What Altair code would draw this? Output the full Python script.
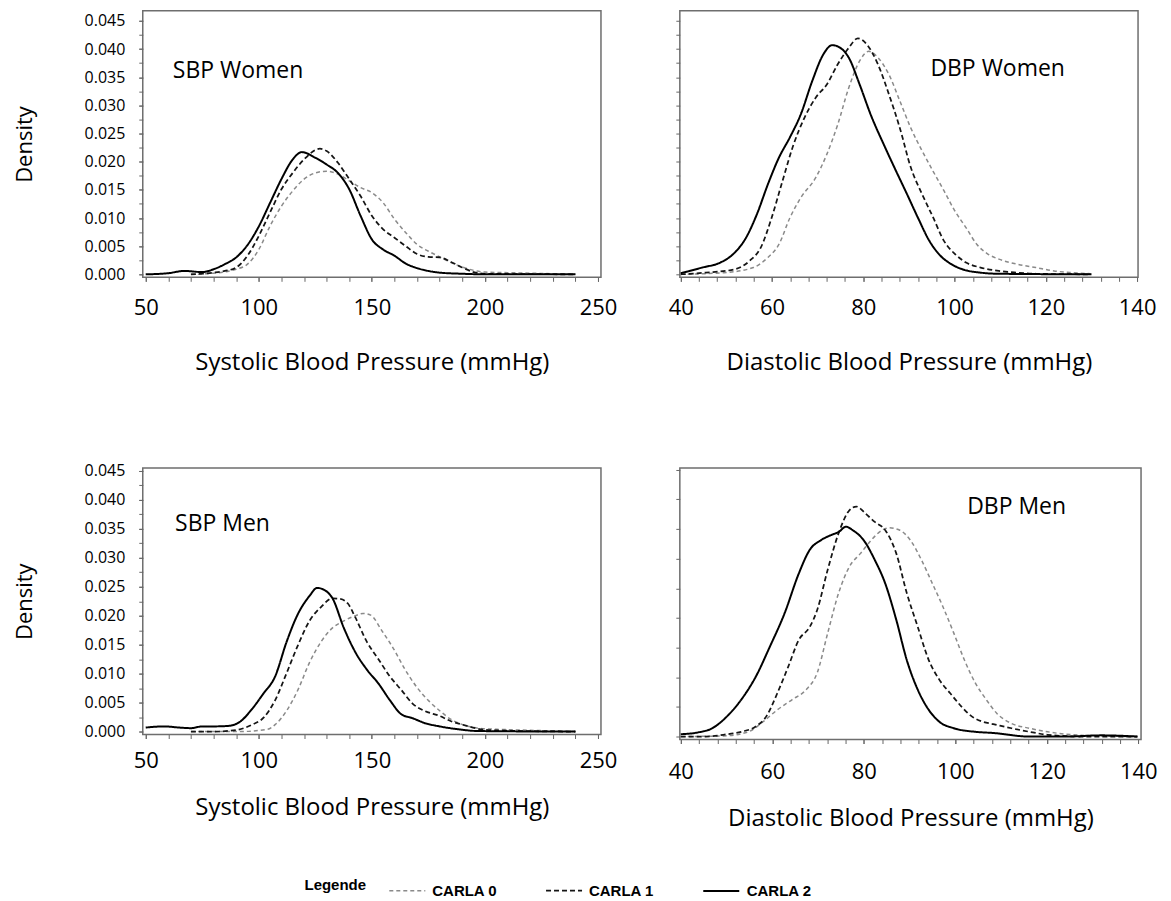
import altair as alt
import pandas as pd

SERIES = ["CARLA 0", "CARLA 1", "CARLA 2"]

# ---------- SBP Women ----------
sbpw_x0 = [70, 80, 90, 95, 100, 105, 110, 115, 120, 125, 130, 135, 140, 145, 150, 155, 160, 165, 170, 175, 180, 185, 190, 195, 200, 210, 220, 240]
sbpw_y0 = [0.0, 0.0002, 0.0009, 0.0018, 0.0044, 0.0086, 0.0121, 0.0148, 0.0169, 0.018, 0.0183, 0.0178, 0.0166, 0.0154, 0.0145, 0.0127, 0.0098, 0.0074, 0.0053, 0.0041, 0.0031, 0.0021, 0.0013, 0.0007, 0.0004, 0.0003, 0.0002, 0.0]
sbpw_x1 = [70, 80, 85, 90, 95, 100, 105, 110, 115, 120, 127, 130, 135, 140, 145, 150, 155, 160, 165, 170, 175, 180, 185, 190, 195, 200, 240]
sbpw_y1 = [0.0, 0.0003, 0.0006, 0.0012, 0.0033, 0.0068, 0.011, 0.0151, 0.018, 0.0204, 0.0223, 0.0219, 0.0198, 0.0169, 0.0139, 0.0104, 0.008, 0.0065, 0.005, 0.0036, 0.0031, 0.003, 0.0022, 0.0012, 0.0004, 0.0001, 0.0]
sbpw_x2 = [50, 60, 67, 75, 80, 85, 90, 95, 100, 105, 110, 115, 119, 125, 130, 135, 140, 145, 150, 155, 160, 165, 170, 175, 180, 190, 200, 240]
sbpw_y2 = [0.0, 0.0002, 0.0006, 0.0004, 0.0009, 0.0018, 0.003, 0.0052, 0.0085, 0.0127, 0.0169, 0.0204, 0.0217, 0.0207, 0.0195, 0.018, 0.0151, 0.0104, 0.0062, 0.0044, 0.0033, 0.0019, 0.0011, 0.0006, 0.0003, 0.0001, 0.0, 0.0]

# ---------- DBP Women ----------
dbpw_x0 = [40, 49.5, 55.9, 59.1, 61.5, 63.9, 66.3, 69.6, 72.0, 74.4, 76.8, 79.2, 81.2, 83.2, 85.6, 88.0, 90.4, 92.9, 95.3, 97.7, 100.1, 102.5, 104.9, 107.3, 109.7, 113.7, 117.8, 121.8, 125.8, 129.8]
dbpw_y0 = [0.0, 0.0003, 0.0012, 0.003, 0.0053, 0.01, 0.0136, 0.0172, 0.0213, 0.0266, 0.0331, 0.0379, 0.0396, 0.0385, 0.0355, 0.0308, 0.026, 0.0219, 0.0183, 0.0148, 0.0112, 0.0083, 0.0053, 0.0036, 0.0027, 0.0018, 0.0012, 0.0006, 0.0003, 0.0001]
dbpw_x1 = [40, 45.5, 51.9, 55.1, 57.5, 59.9, 62.3, 64.7, 67.1, 69.6, 72.0, 74.4, 76.8, 78.8, 80.8, 83.2, 85.6, 88.0, 90.4, 92.9, 95.3, 97.7, 100.1, 102.5, 105.7, 109.7, 113.7, 117.8, 129.8]
dbpw_y1 = [0.0, 0.0003, 0.0009, 0.0024, 0.0047, 0.01, 0.0166, 0.023, 0.0278, 0.0314, 0.0337, 0.0373, 0.0402, 0.0419, 0.0408, 0.0373, 0.032, 0.026, 0.019, 0.0142, 0.0101, 0.0059, 0.0036, 0.0021, 0.0012, 0.0006, 0.0003, 0.0001, 0.0]
dbpw_x2 = [40, 44.7, 48.7, 51.5, 54.3, 56.7, 59.1, 61.5, 63.9, 66.3, 68.8, 71.2, 73.2, 74.8, 76.8, 79.2, 81.6, 84.8, 87.2, 89.6, 92.0, 94.5, 96.9, 99.3, 101.7, 105.7, 109.7, 130]
dbpw_y2 = [0.0002, 0.0012, 0.0021, 0.0036, 0.0065, 0.0107, 0.016, 0.0207, 0.0243, 0.0284, 0.0343, 0.039, 0.0407, 0.0403, 0.0385, 0.0337, 0.0284, 0.0225, 0.0183, 0.0142, 0.01, 0.0059, 0.0033, 0.0018, 0.0009, 0.0003, 0.0001, 0.0]

# ---------- SBP Men ----------
sbpm_x0 = [70, 90.3, 103.8, 107.2, 112.3, 117.3, 122.4, 127.5, 132.6, 137.6, 142.7, 146.1, 149.5, 154.6, 159.6, 164.7, 169.8, 174.9, 180.0, 185.0, 190.1, 196.9, 205.3, 213.8, 240]
sbpm_y0 = [0.0, 0.0, 0.0004, 0.0012, 0.0036, 0.0072, 0.0119, 0.0155, 0.0179, 0.0191, 0.02, 0.0204, 0.0201, 0.0173, 0.0143, 0.0107, 0.0077, 0.0054, 0.0036, 0.0021, 0.0012, 0.0006, 0.0004, 0.0003, 0.0]
sbpm_x1 = [70, 80.1, 90.3, 97.0, 102.1, 107.2, 112.3, 117.3, 122.4, 127.5, 132.6, 136.0, 139.4, 142.7, 147.8, 152.9, 158.0, 163.0, 168.1, 173.2, 180.0, 185.0, 190.1, 196.9, 205.3, 240]
sbpm_y1 = [0.0, 0.0, 0.0003, 0.0012, 0.0024, 0.0054, 0.0101, 0.0149, 0.0191, 0.0215, 0.023, 0.0229, 0.0221, 0.0197, 0.0155, 0.0125, 0.0095, 0.0072, 0.0048, 0.0036, 0.0027, 0.0018, 0.0012, 0.0005, 0.0002, 0.0]
sbpm_x2 = [50, 58.1, 64.9, 70.0, 75.0, 80.1, 86.9, 92.0, 97.0, 102.1, 107.2, 112.3, 117.3, 122.4, 125.8, 129.2, 132.6, 137.6, 142.7, 147.8, 152.9, 158.0, 163.0, 168.1, 173.2, 180.0, 188.4, 196.9, 240]
sbpm_y2 = [0.0007, 0.0009, 0.0007, 0.0006, 0.0009, 0.0009, 0.001, 0.0018, 0.0039, 0.0066, 0.0095, 0.0155, 0.0203, 0.0234, 0.0248, 0.0244, 0.023, 0.0179, 0.0137, 0.0107, 0.0083, 0.0054, 0.003, 0.0023, 0.0015, 0.0009, 0.0004, 0.0001, 0.0]

# ---------- DBP Men ----------
dbpm_x0 = [40, 49.3, 54.8, 58.0, 61.1, 64.3, 67.4, 69.8, 72.1, 74.5, 76.9, 79.3, 81.6, 84.0, 85.5, 87.9, 90.2, 92.6, 95.0, 97.3, 99.7, 102.0, 104.4, 106.8, 109.1, 112.3, 116.2, 120.2, 124.1, 132.0, 139.8]
dbpm_y0 = [0.0, 0.0001, 0.0008, 0.0025, 0.0045, 0.0062, 0.0079, 0.0107, 0.0174, 0.0242, 0.0287, 0.0309, 0.0331, 0.0348, 0.0352, 0.0348, 0.0331, 0.0298, 0.0258, 0.0219, 0.0174, 0.0129, 0.009, 0.0062, 0.0039, 0.0022, 0.0014, 0.0008, 0.0004, 0.0001, 0.0]
dbpm_x1 = [40, 45.4, 49.3, 53.2, 56.4, 58.7, 61.1, 63.5, 65.8, 68.2, 69.8, 72.1, 74.5, 76.9, 78.4, 80.4, 82.4, 84.7, 87.1, 89.4, 91.8, 94.2, 96.5, 98.9, 101.3, 103.6, 106.0, 108.3, 112.3, 116.2, 120.2, 128.0, 139.8]
dbpm_y1 = [0.0, 0.0, 0.0003, 0.0008, 0.0017, 0.0034, 0.0073, 0.0118, 0.0163, 0.0185, 0.0213, 0.0281, 0.0343, 0.0382, 0.0388, 0.0376, 0.0362, 0.0348, 0.0309, 0.0242, 0.0185, 0.0129, 0.0096, 0.0073, 0.0051, 0.0034, 0.0025, 0.0021, 0.0014, 0.0008, 0.0003, 0.0, 0.0]
dbpm_x2 = [40, 43.8, 46.9, 50.1, 53.2, 56.4, 59.5, 62.7, 65.8, 68.2, 70.6, 72.9, 74.5, 76.1, 77.6, 80.0, 82.4, 84.7, 87.1, 89.4, 91.8, 94.2, 96.5, 99.7, 104.4, 108.3, 116.2, 124.1, 132.0, 139.8]
dbpm_y2 = [0.0004, 0.0007, 0.0014, 0.0034, 0.0062, 0.0101, 0.0152, 0.0208, 0.0275, 0.0315, 0.0331, 0.034, 0.0345, 0.0354, 0.0348, 0.0331, 0.0298, 0.0258, 0.0197, 0.0129, 0.0079, 0.0045, 0.0025, 0.0014, 0.0008, 0.0006, 0.0, 0.0, 0.0002, 0.0]

# panel annotations, axis titles and ticks
panel_names = ["SBP Women", "DBP Women", "SBP Men", "DBP Men"]
x_titles = ["Systolic Blood Pressure (mmHg)", "Diastolic Blood Pressure (mmHg)",
            "Systolic Blood Pressure (mmHg)", "Diastolic Blood Pressure (mmHg)"]
sbp_minor = list(range(50, 251, 10))
sbp_major = [50, 100, 150, 200, 250]
dbp_minor = list(range(40, 141, 4))
dbp_major = [40, 60, 80, 100, 120, 140]
dens_minor = [round(i * 0.0025, 4) for i in range(0, 19)]
dens_major = [round(i * 0.005, 3) for i in range(0, 10)]

FONT = "Open Sans"


def build_df(xs, ys):
    rows = []
    for s, xx, yy in zip(SERIES, xs, ys):
        for a, b in zip(xx, yy):
            rows.append({"x": a, "density": b, "series": s})
    return pd.DataFrame(rows)


legend = alt.Legend(
    title="Legende", orient="none", legendX=162, legendY=862,
    direction="horizontal", titleOrient="left", symbolType="stroke",
    symbolSize=1300, labelFont="Liberation Sans", labelFontWeight="bold",
    labelFontSize=15, titleFont="Liberation Sans", titleFontWeight="bold",
    titleFontSize=15, columnPadding=44, titlePadding=22, labelOffset=6,
)


def panel(df, name, tx, ty, xdom, ydom, xminor, xmajor, yminor, left,
          xtitle, w, h, lpad, tpad):
    xs = alt.Scale(domain=xdom, nice=False, zero=False)
    ys = alt.Scale(domain=ydom, nice=False, zero=False)
    lines = alt.Chart(df).mark_line(interpolate="monotone", strokeCap="butt").encode(
        x=alt.X("x:Q", scale=xs, axis=alt.Axis(values=xminor, labels=False, title=None, orient="bottom")),
        y=alt.Y("density:Q", scale=ys, axis=alt.Axis(values=yminor, labels=False, title=None, orient="left")),
        color=alt.Color("series:N", scale=alt.Scale(domain=SERIES, range=["#8a8a8a", "#151515", "#000000"]), legend=legend),
        strokeDash=alt.StrokeDash("series:N", scale=alt.Scale(domain=SERIES, range=[[4, 3], [5, 3], [1, 0]]), legend=legend),
        strokeWidth=alt.StrokeWidth("series:N", scale=alt.Scale(domain=SERIES, range=[1.5, 2.0, 1.9]), legend=legend),
    )
    xaxis = alt.Axis(values=xmajor, format="d", title=xtitle, orient="bottom",
                     labelFontSize=22, titleFontSize=24, labelPadding=lpad,
                     titlePadding=tpad, labelFlush=False)
    if left:
        yaxis = alt.Axis(values=dens_major, format=".3f", title="Density", orient="left",
                         labelFontSize=16, titleFontSize=22, labelPadding=14,
                         titlePadding=48, labelFlush=False)
    else:
        yaxis = None
    txt = alt.Chart(pd.DataFrame({"x": [tx], "density": [ty], "label": [name]})).mark_text(
        align="left", baseline="alphabetic", font=FONT, fontSize=23, color="black"
    ).encode(x=alt.X("x:Q", axis=xaxis), y=alt.Y("density:Q", axis=yaxis), text="label:N")
    return alt.layer(lines, txt).resolve_axis(x="independent", y="independent").properties(width=w, height=h)


p_tl = panel(build_df([sbpw_x0, sbpw_x1, sbpw_x2], [sbpw_y0, sbpw_y1, sbpw_y2]), panel_names[0],
             62, 0.0349, [48.7, 251.3], [-0.00053, 0.0468], sbp_minor, sbp_major, dens_minor, True,
             x_titles[0], 459, 267, 16, 32)
p_tr = panel(build_df([dbpw_x0, dbpw_x1, dbpw_x2], [dbpw_y0, dbpw_y1, dbpw_y2]), panel_names[1],
             94.7, 0.0352, [39.8, 140.2], [-0.00053, 0.0468], dbp_minor, dbp_major, dens_minor, False,
             x_titles[1], 459, 267, 16, 32)
p_bl = panel(build_df([sbpm_x0, sbpm_x1, sbpm_x2], [sbpm_y0, sbpm_y1, sbpm_y2]), panel_names[2],
             63, 0.0347, [48.7, 251.3], [-0.0005, 0.0455], sbp_minor, sbp_major, dens_minor, True,
             x_titles[2], 459, 267, 12, 24)
p_br = panel(build_df([dbpm_x0, dbpm_x1, dbpm_x2], [dbpm_y0, dbpm_y1, dbpm_y2]), panel_names[3],
             102.6, 0.0375, [39.8, 140.6], [-0.0005, 0.0453], dbp_minor, dbp_major, dens_major, False,
             x_titles[3], 462, 272, 18, 24)

top = alt.hconcat(p_tl, p_tr, spacing=79, bounds="flush")
bottom = alt.hconcat(p_bl, p_br, spacing=79, bounds="flush")
chart = alt.vconcat(top, bottom, spacing=458, bounds="flush").properties(
    padding={"left": 4, "top": 1, "right": 5, "bottom": 5}
).configure_view(stroke="#6e6e6e", strokeWidth=1.5).configure_axis(
    domain=False, grid=False, tickColor="#666666", tickSize=4, tickWidth=1,
    labelFont=FONT, titleFont=FONT, labelColor="black", titleColor="black",
    titleFontWeight="normal", labelOverlap=False,
)

chart.save("out.html", embed_options={"renderer": "svg", "actions": False})
